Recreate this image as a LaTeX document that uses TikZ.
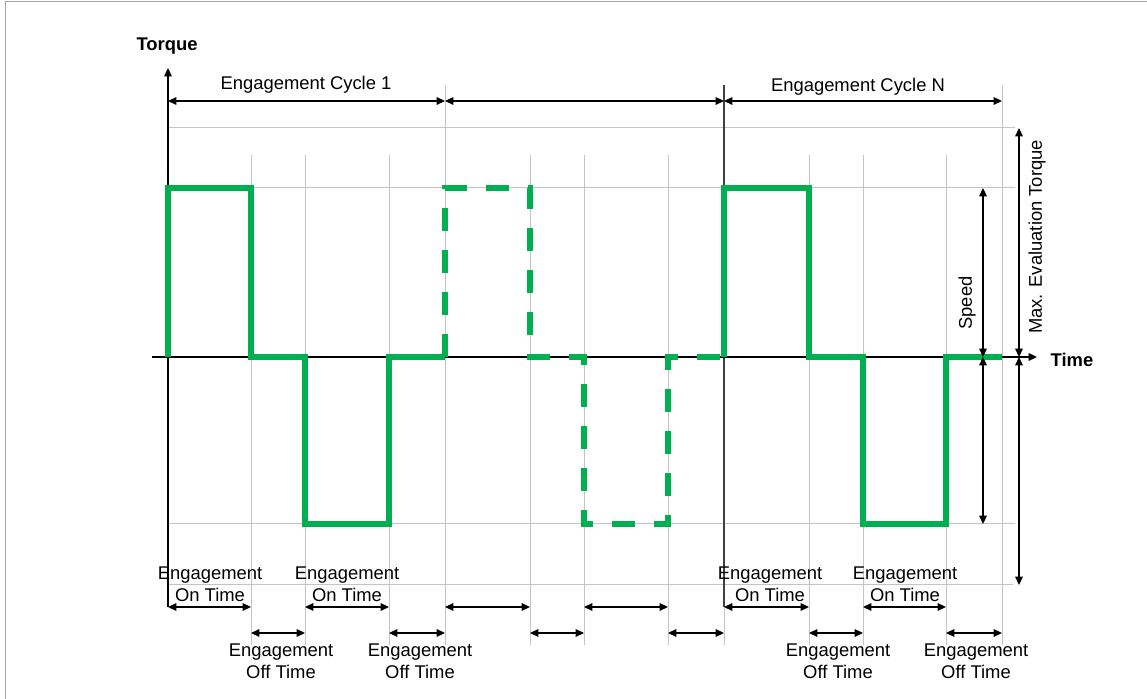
\documentclass[tikz,border=0pt]{standalone}
\usepackage{fontspec}
\setmainfont{Liberation Sans}
\usetikzlibrary{arrows.meta}
\definecolor{pulsegreen}{RGB}{0,176,80}
\definecolor{gridgray}{RGB}{196,196,196}
\definecolor{framegray}{RGB}{165,165,165}

\begin{document}
\begin{tikzpicture}[x=0.5pt,y=-0.5pt,>={Triangle[length=4.2pt,width=3.8pt]},
        grid/.style={gridgray,line width=0.5pt},
        pulse/.style={pulsegreen,line width=2.7pt},
        dim/.style={<->,line width=0.7pt},
        lbl/.style={font=\fontsize{9.2}{11}\selectfont,align=center,inner sep=0pt},
        head/.style={font=\fontsize{9.2}{11}\selectfont\bfseries,inner sep=0pt}]
        \useasboundingbox (0,0) rectangle (1147,699);
        % frame
        \draw[framegray,line width=0.5pt] (5,720) -- (5,2) -- (1170,2);
        % time marks and levels
        \foreach \n/\x in {0/168,1/251,2/305,3/389,4/445,5/530,6/584,7/668,8/724,9/809,10/863,11/946,12/1002}
            \coordinate (t\n) at (\x,0);
        \coordinate (ycyc) at (0,101);
        \coordinate (ymax) at (0,128);
        \coordinate (yhi)  at (0,188);
        \coordinate (y0)   at (0,357);
        \coordinate (ylo)  at (0,524);
        \coordinate (ymin) at (0,585);
        \coordinate (yon)  at (0,607);
        \coordinate (yoff) at (0,633);
        % grid
        \foreach \y in {128,188,524} \draw[grid] (168,\y) -- (1015,\y);
        \draw[grid] (168,585) -- (1013,585);
        \foreach \x in {251,305,389,530,584,668,809,863,946} \draw[grid] (\x,155) -- (\x,645);
        \foreach \x in {445,724,1002} \draw[grid] (\x,85) -- (\x,645);
        \draw[black!75,line width=0.6pt] (724,85) -- (724,607);
        % axes
        \draw[->,line width=0.75pt] (168,607) -- (168,68);
        \draw[->,line width=0.75pt] (152,357) -- (1037,357);
        \node[head] (torque) at (167,46) {Torque};
        \node[head] (time) at (1072,360) {Time};
        % torque pulses
        \draw[pulse] (168,357) -- (168,188) -- (251,188) -- (251,357) -- (305,357)
            -- (305,524) -- (389,524) -- (389,357) -- (445,357);
        \draw[pulse,dash pattern=on 11.5pt off 9.5pt] (445,357) -- (445,188) -- (530,188)
            -- (530,357) -- (584,357) -- (584,524) -- (668,524) -- (668,357) -- (724,357);
        \draw[pulse] (724,357) -- (724,188) -- (809,188) -- (809,357) -- (863,357)
            -- (863,524) -- (946,524) -- (946,357) -- (1002,357);
        % cycles
        \draw[dim] (t0 |- ycyc) -- (t4 |- ycyc);
        \draw[dim] (t4 |- ycyc) -- (t8 |- ycyc);
        \draw[dim] (t8 |- ycyc) -- (t12 |- ycyc);
        \node[lbl] (cyc1) at (306,85) {Engagement Cycle 1};
        \node[lbl] (cycN) at (858,87) {Engagement Cycle N};
        % speed and max. torque
        \coordinate (xs) at (983,0);
        \coordinate (xm) at (1019,0);
        \draw[dim] (xs |- yhi) -- (xs |- y0);
        \draw[dim] (xs |- y0) -- (xs |- ylo);
        \draw[dim] (xm |- ymax) -- (xm |- y0);
        \draw[dim] (xm |- y0) -- (xm |- ymin);
        \node[lbl,rotate=90] (speed) at (967,303) {Speed};
        \node[lbl,rotate=90] (maxtorque) at (1037,237) {Max. Evaluation Torque};
        % on times
        \foreach \a/\b in {0/1,2/3,4/5,6/7,8/9,10/11} \draw[dim] (t\a |- yon) -- (t\b |- yon);
        % off times
        \foreach \a/\b in {1/2,3/4,5/6,7/8,9/10,11/12} \draw[dim] (t\a |- yoff) -- (t\b |- yoff);
        % labels
        \node[lbl] (on1)  at (210,584) {Engagement\\On Time};
        \node[lbl] (on2)  at (347,584) {Engagement\\On Time};
        \node[lbl] (on3)  at (770,584) {Engagement\\On Time};
        \node[lbl] (on4)  at (905,584) {Engagement\\On Time};
        \node[lbl] (off1) at (281,661) {Engagement\\Off Time};
        \node[lbl] (off2) at (420,661) {Engagement\\Off Time};
        \node[lbl] (off3) at (838,661) {Engagement\\Off Time};
        \node[lbl] (off4) at (976,661) {Engagement\\Off Time};
\end{tikzpicture}
\end{document}
